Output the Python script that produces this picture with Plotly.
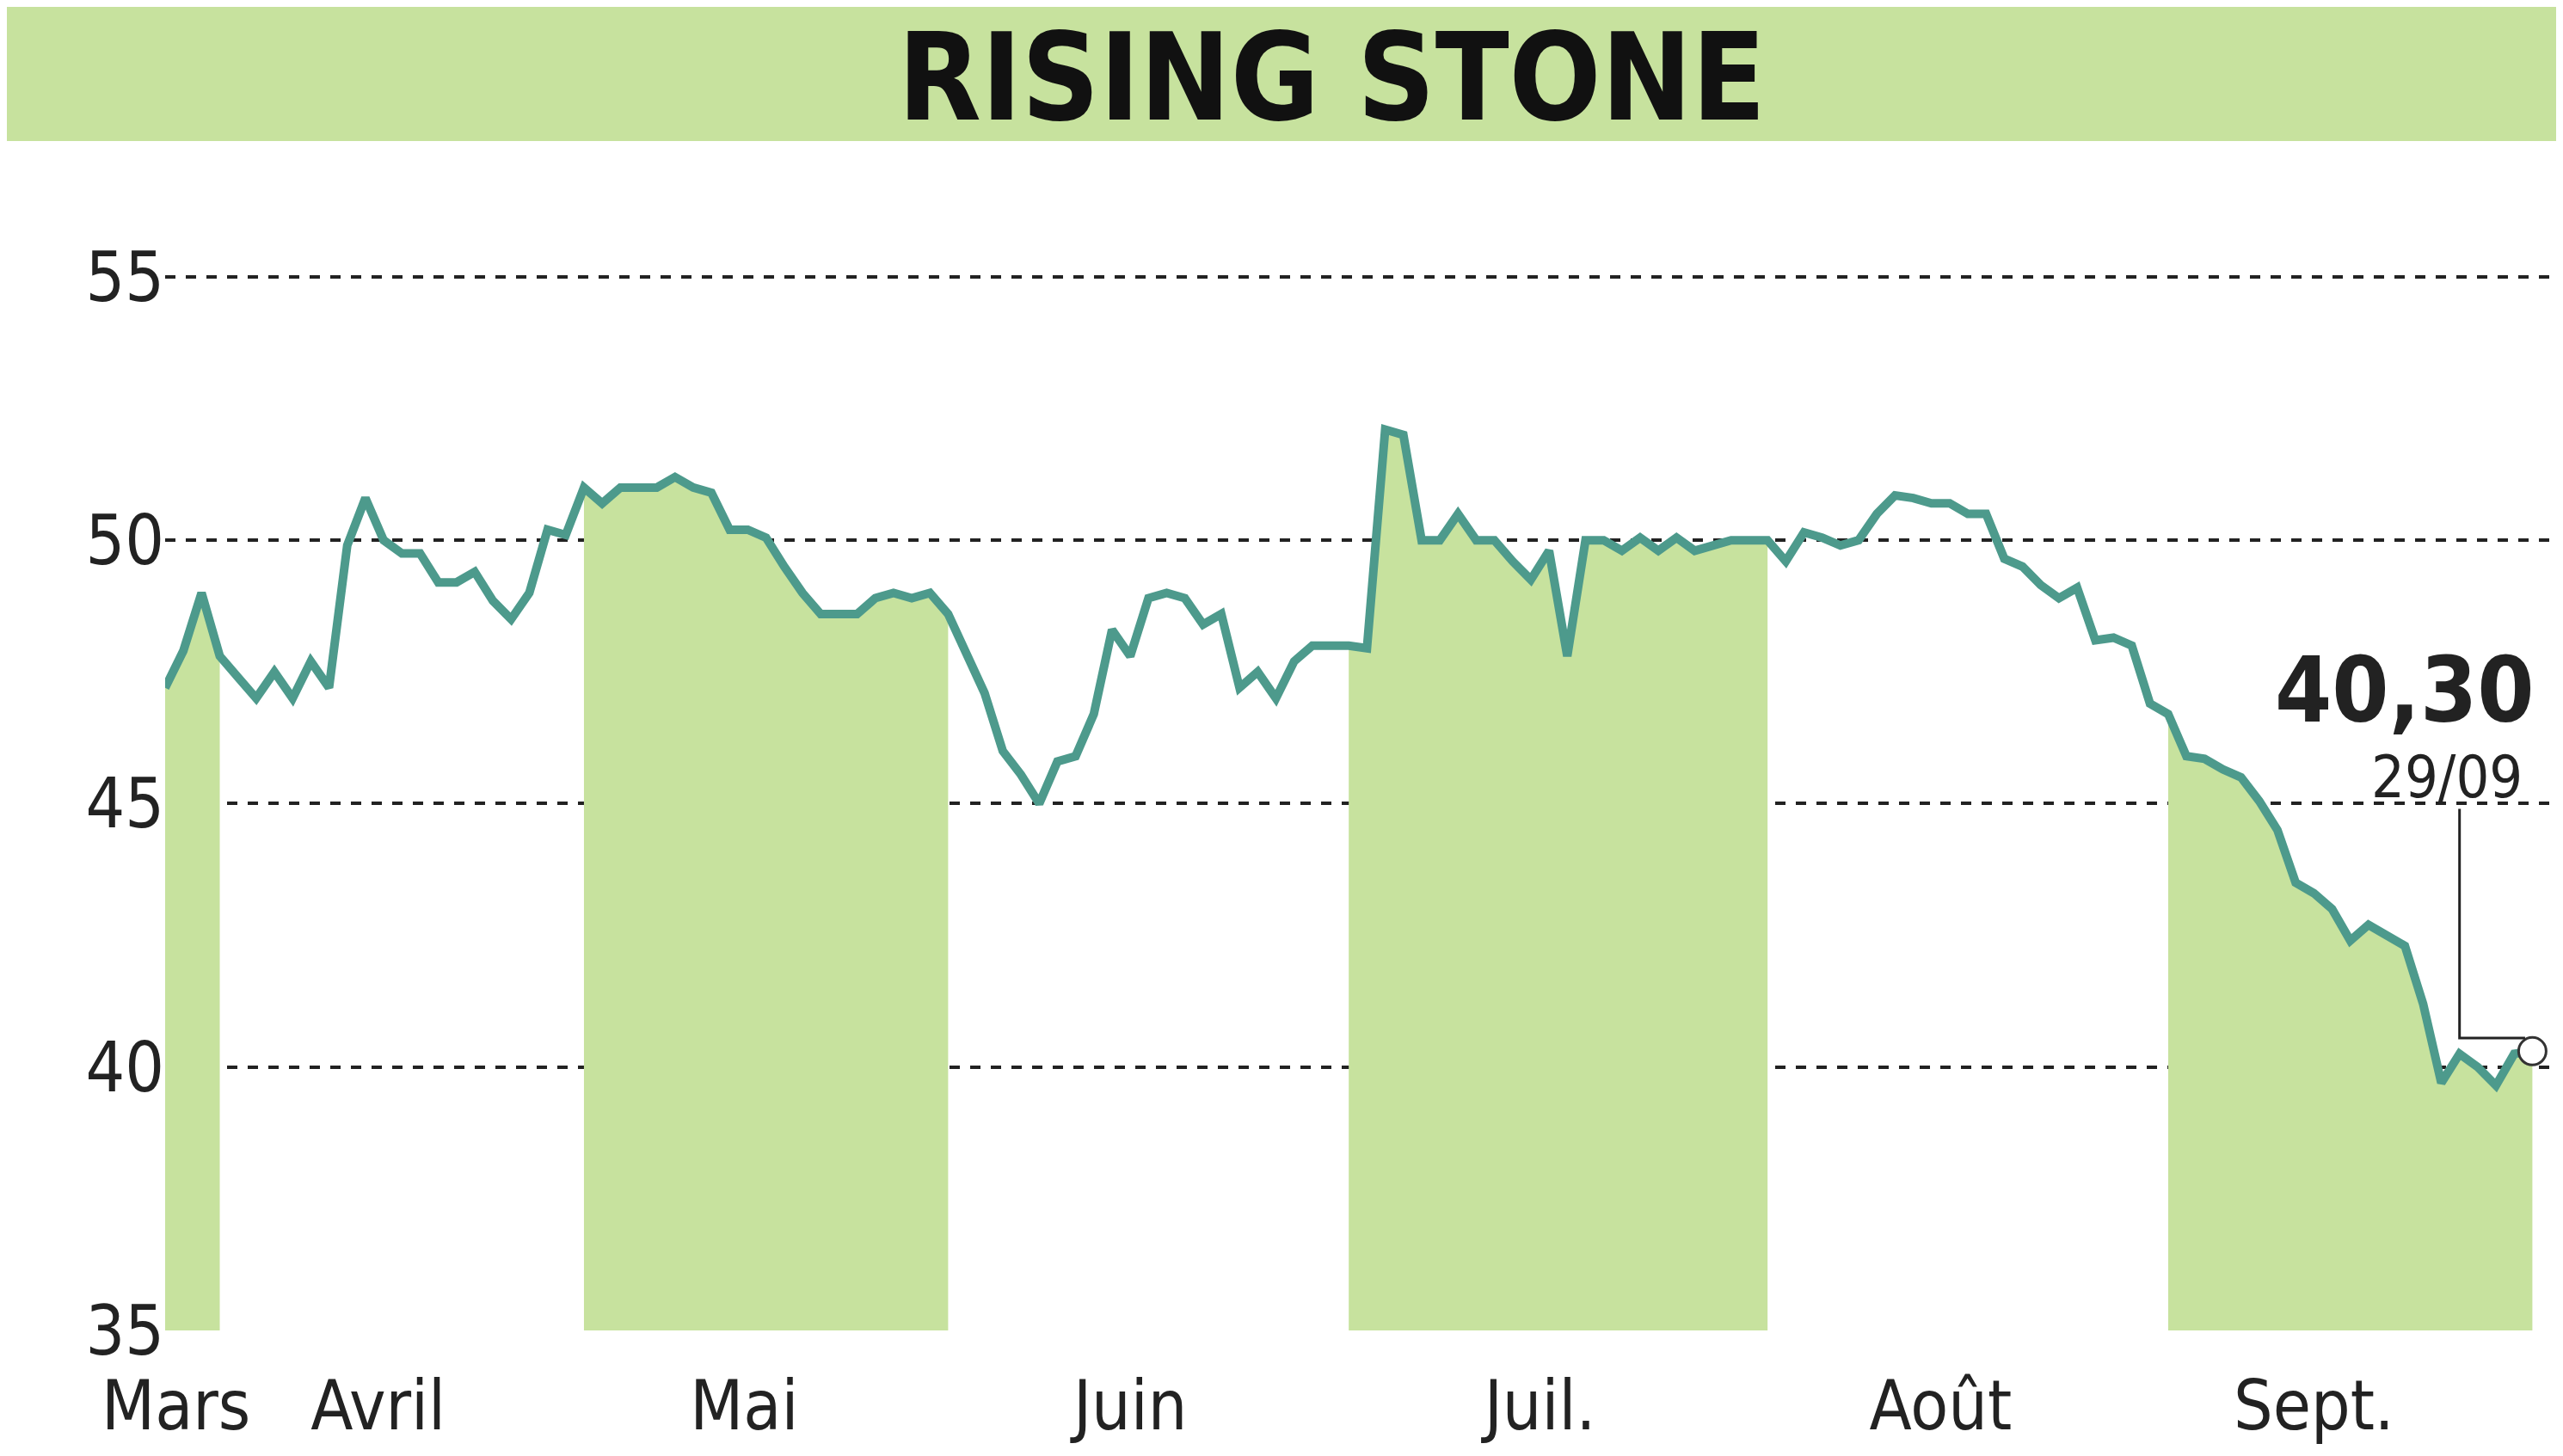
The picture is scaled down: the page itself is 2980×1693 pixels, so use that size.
import plotly.graph_objects as go

values = [47.2,47.9,49.0,47.8,47.4,47.0,47.5,47.0,47.7,47.2,49.9,50.8,50.0,49.75,49.75,49.2,49.2,49.4,48.85,48.5,
49.0,50.2,50.1,51.0,50.7,51.0,51.0,51.0,51.2,51.0,50.9,50.2,50.2,50.05,49.5,49.0,48.6,48.6,48.6,48.9,
49.0,48.9,49.0,48.6,47.85,47.1,46.0,45.55,45.0,45.8,45.9,46.7,48.3,47.8,48.9,49.0,48.9,48.4,48.6,47.2,
47.5,47.0,47.7,48.0,48.0,48.0,47.95,52.1,52.0,50.0,50.0,50.5,50.0,50.0,49.6,49.25,49.8,47.8,50.0,50.0,
49.8,50.05,49.8,50.05,49.8,49.9,50.0,50.0,50.0,49.6,50.15,50.05,49.9,50.0,50.5,50.85,50.8,50.7,50.7,50.5,
50.5,49.65,49.5,49.15,48.9,49.1,48.1,48.15,48.0,46.9,46.7,45.9,45.85,45.65,45.5,45.05,44.5,43.5,43.3,43.0,
42.4,42.7,42.5,42.3,41.2,39.7,40.25,40.0,39.65,40.25,40.3]
month_labels = ["Mars","Avril","Mai","Juin","Juil.","Août","Sept."]
month_pos = [0.6,11.7,31.8,53.0,75.5,97.5,118.0]
shade_ranges = [(0,3),(23,43),(65,88),(110,len(values)-1)]
last_label = "40,30"
last_date = "29/09"

n = len(values)
xs = list(range(n))
LINE = "#4d9a8c"
GREEN = "#c7e29e"
FONT = "DejaVu Sans Condensed, Liberation Sans Narrow, Roboto Condensed, sans-serif"
PH = 1693 - 173 - 154

fig = go.Figure()
for a, b in shade_ranges:
    fig.add_trace(go.Scatter(x=xs[a:b+1], y=values[a:b+1], mode="lines", line=dict(width=0),
                             fill="tozeroy", fillcolor=GREEN, hoverinfo="skip", showlegend=False))
fig.add_trace(go.Scatter(x=xs, y=values, mode="lines", line=dict(color=LINE, width=10), showlegend=False))
fig.add_shape(type="path", xref="x", yref="y",
              path=f"M 126,44.9 L 126,40.55 L {xs[-1]-0.4},40.55",
              line=dict(color="#222", width=3))
fig.add_trace(go.Scatter(x=[xs[-1]], y=[values[-1]], mode="markers",
                         marker=dict(size=32, color="white", line=dict(color="#333", width=3)), showlegend=False))

fig.add_shape(type="rect", xref="paper", yref="paper", x0=-0.2, x1=1.1, y0=1 + 17 / PH, y1=1 + 260 / PH,
              fillcolor=GREEN, line_width=0, layer="below")
fig.add_annotation(text="<b>RISING STONE</b>", xref="paper", yref="paper", x=0.485, y=1 + 90 / PH,
                   xanchor="center", yanchor="middle", showarrow=False,
                   font=dict(family=FONT, size=140, color="#111"))
fig.add_annotation(text=f"<b>{last_label}</b>", x=123, y=47.15, showarrow=False,
                   font=dict(family=FONT, size=106, color="#222"))
fig.add_annotation(text=last_date, x=125.3, y=45.5, showarrow=False,
                   font=dict(family=FONT, size=68, color="#222"))

fig.update_layout(
    width=2980, height=1693, plot_bgcolor="white", paper_bgcolor="white",
    margin=dict(l=184, r=0, t=173, b=154),
    xaxis=dict(range=[0, n - 1 + 2.06], tickvals=month_pos, ticktext=month_labels, showgrid=False, zeroline=False,
               tickfont=dict(family=FONT, size=80, color="#222"), ticks="outside", ticklen=18, tickcolor="rgba(0,0,0,0)",
               showline=False),
    yaxis=dict(range=[35, 57.3], tickvals=[35,40,45,50,55], showgrid=True, gridcolor="#222", gridwidth=4,
               griddash="dash", zeroline=False, tickfont=dict(family=FONT, size=80, color="#222"), ticks=""),
)
fig.write_html("out.html")
